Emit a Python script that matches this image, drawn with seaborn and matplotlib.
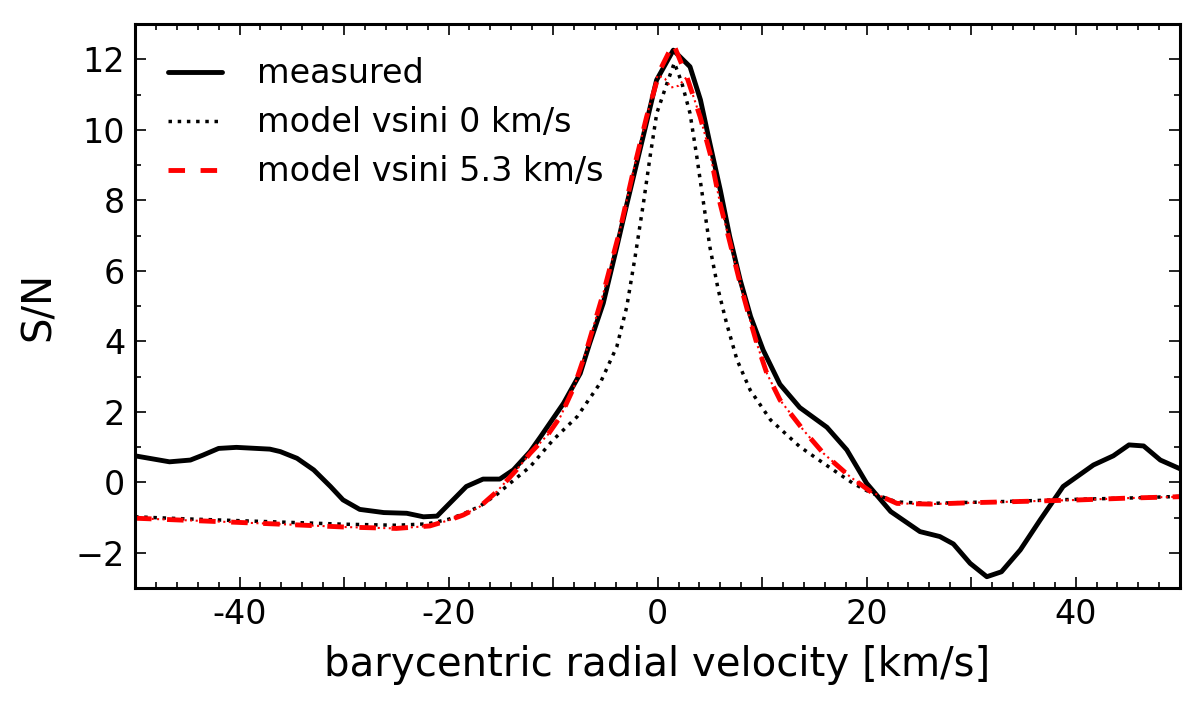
import numpy as np
import pandas as pd
import matplotlib
matplotlib.use("Agg")
import matplotlib.pyplot as plt
from matplotlib.ticker import MultipleLocator, FuncFormatter
import seaborn as sns

# ---- data ----
measured_v = [-50, -46.7, -44.7, -43.5, -42.0, -40.3, -37.1, -36.1, -34.5, -32.9, -31.3, -30.1,
              -28.5, -26.2, -24.0, -22.4, -21.1, -19.9, -18.3, -16.7, -15.1, -13.8, -12.2, -11.2,
              -9.0, -7.4, -6.5, -5.2, -3.9, -3.0, -2.0, -1.0, -0.1, 1.5, 3.1, 4.1, 5.0, 6.0, 6.9,
              7.9, 8.9, 10.1, 11.7, 13.6, 16.2, 18.1, 20.0, 22.3, 25.1, 27.0, 28.3, 29.9, 31.5,
              32.9, 34.7, 36.6, 38.8, 41.7, 43.6, 45.1, 46.5, 48.1, 50]
measured_s = [0.75, 0.58, 0.63, 0.77, 0.96, 0.99, 0.94, 0.87, 0.68, 0.35, -0.12, -0.50,
              -0.77, -0.86, -0.88, -0.98, -0.96, -0.60, -0.12, 0.09, 0.09, 0.35, 0.87, 1.29,
              2.24, 3.09, 3.94, 5.08, 6.68, 7.82, 9.05, 10.28, 11.41, 12.26, 11.79, 10.85, 9.62, 8.29, 6.97,
              5.74, 4.70, 3.75, 2.78, 2.12, 1.56, 0.92, -0.03, -0.83, -1.40, -1.54, -1.75, -2.30, -2.68,
              -2.54, -1.92, -1.07, -0.12, 0.49, 0.75, 1.06, 1.03, 0.63, 0.38]

model0_v = [-50, -45, -40, -35, -30, -25, -22, -20, -18.6, -17, -15.4, -14, -12.2, -10.0, -7.7,
            -5.5, -3.9, -2.95, -2.15, -1.36, -0.72, -0.08, 0.9, 1.6, 2.3, 3.1, 3.75, 4.4, 5.0,
            5.8, 6.6, 7.6, 8.85, 10.8, 13.6, 16.8, 18.7, 20.4, 22.9, 26, 30, 34, 38, 42, 46, 50]
model0_s = [-0.98, -1.04, -1.09, -1.14, -1.19, -1.22, -1.18, -1.05, -0.9, -0.68, -0.35, 0.0, 0.44,
            1.2, 1.86, 2.81, 3.85, 4.98, 6.4, 7.91, 9.24, 10.47, 11.32, 11.9, 11.35, 10.47, 9.24,
            7.91, 6.68, 5.46, 4.51, 3.47, 2.62, 1.77, 1.01, 0.35, -0.03, -0.3, -0.56, -0.6, -0.57,
            -0.54, -0.5, -0.47, -0.44, -0.40]

model53_v = [-50, -45, -40, -34.5, -30, -25, -21.8, -19.9, -18.6, -17, -15.4, -13.5, -12.2, -10.5,
             -9.3, -8, -6.8, -5.2, -3.6, -2.3, -1.05, 0.24, 1.5, 2.8, 4.07, 5.02, 5.98, 6.94, 7.89,
             8.85, 9.49, 10.45, 11.72, 13.95, 15.87, 18.4, 20.4, 22.9, 26.1, 30, 34.05, 40.4, 45, 50]
model53_s = [-1.02, -1.08, -1.14, -1.21, -1.27, -1.31, -1.24, -1.07, -0.93, -0.69, -0.27, 0.35, 0.82,
             1.35, 1.86, 2.7, 3.75, 5.36, 7.16, 8.86, 10.37, 11.7, 12.45, 11.5, 10.37, 9.33, 7.91,
             6.78, 5.65, 4.6, 3.94, 3.09, 2.33, 1.48, 0.82, 0.16, -0.27, -0.60, -0.62, -0.58, -0.55,
             -0.50, -0.45, -0.41]

# thin red dotted companion model (no legend entry)
model53b_v = [-50, -45, -40, -34.5, -30, -25, -21.8, -19.9, -18.6, -17, -15.4, -13.5, -12.2, -10.5,
              -9.3, -8, -6.8, -5.2, -3.6, -2.3, -1.05, 0.0, 0.7, 1.3, 2.0, 2.8, 4.07, 5.02, 5.98,
              6.94, 7.89, 8.85, 9.49, 10.45, 11.72, 13.95, 15.87, 18.4, 20.4, 22.9, 26.1, 30, 34.05,
              40.4, 45, 50]
model53b_s = [-1.02, -1.08, -1.14, -1.21, -1.27, -1.31, -1.24, -1.07, -0.93, -0.69, -0.27, 0.35, 0.82,
              1.35, 1.86, 2.7, 3.75, 5.36, 7.16, 8.86, 10.37, 11.55, 11.45, 11.2, 11.25, 11.5, 10.37,
              9.33, 7.91, 6.78, 5.65, 4.6, 3.94, 3.09, 2.33, 1.48, 0.82, 0.16, -0.27, -0.60, -0.62,
              -0.58, -0.55, -0.50, -0.45, -0.41]

labels = ["measured", "model vsini 0 km/s", "model vsini 5.3 km/s"]

# ---- plotting ----
sns.set_style("ticks")
plt.rcParams["font.family"] = ["DejaVu Sans"]

fig = plt.figure(figsize=(12, 7.08), dpi=100)
ax = fig.add_axes([0.1125, 0.1695, 0.871, 0.7965])

df_m = pd.DataFrame({"v": measured_v, "s": measured_s})
df_0 = pd.DataFrame({"v": model0_v, "s": model0_s})
df_5 = pd.DataFrame({"v": model53_v, "s": model53_s})
df_5b = pd.DataFrame({"v": model53b_v, "s": model53b_s})

sns.lineplot(data=df_m, x="v", y="s", ax=ax, color="black", lw=3.5,
             estimator=None, sort=False, label=labels[0])
sns.lineplot(data=df_0, x="v", y="s", ax=ax, color="black", lw=2.5, linestyle=":",
             estimator=None, sort=False, label=labels[1])
sns.lineplot(data=df_5b, x="v", y="s", ax=ax, color="red", lw=1.5, linestyle=":",
             estimator=None, sort=False, label="_nolegend_")
sns.lineplot(data=df_5, x="v", y="s", ax=ax, color="red", lw=3.5, linestyle=(0, (3.4, 3.2)),
             estimator=None, sort=False, label=labels[2])

ax.set_xlim(-50, 50)
ax.set_ylim(-3, 13)
ax.xaxis.set_major_locator(MultipleLocator(10))
ax.xaxis.set_minor_locator(MultipleLocator(2))
ax.yaxis.set_major_locator(MultipleLocator(2))
ax.yaxis.set_minor_locator(MultipleLocator(1))
ax.xaxis.set_major_formatter(FuncFormatter(
    lambda v, p: (f"{int(round(v))}" if int(round(v)) % 20 == 0 else "")))

ax.tick_params(which="both", direction="in", top=True, right=True, labelsize=24, width=1.2,
               colors="black")
ax.tick_params(which="major", length=8, pad=7)
ax.tick_params(which="minor", length=4)
for sp in ax.spines.values():
    sp.set_linewidth(2.2)
    sp.set_color("black")

ax.set_xlabel("barycentric radial velocity [km/s]", fontsize=29, labelpad=10, color="black")
ax.set_ylabel("S/N", fontsize=29, labelpad=12, color="black")

leg = ax.legend(loc="upper left", frameon=False, fontsize=24, handlelength=1.6,
                handletextpad=1.05, labelspacing=0.48, borderaxespad=0.6)
for t in leg.get_texts():
    t.set_color("black")

fig.savefig("out.png", dpi=100, facecolor="white")
